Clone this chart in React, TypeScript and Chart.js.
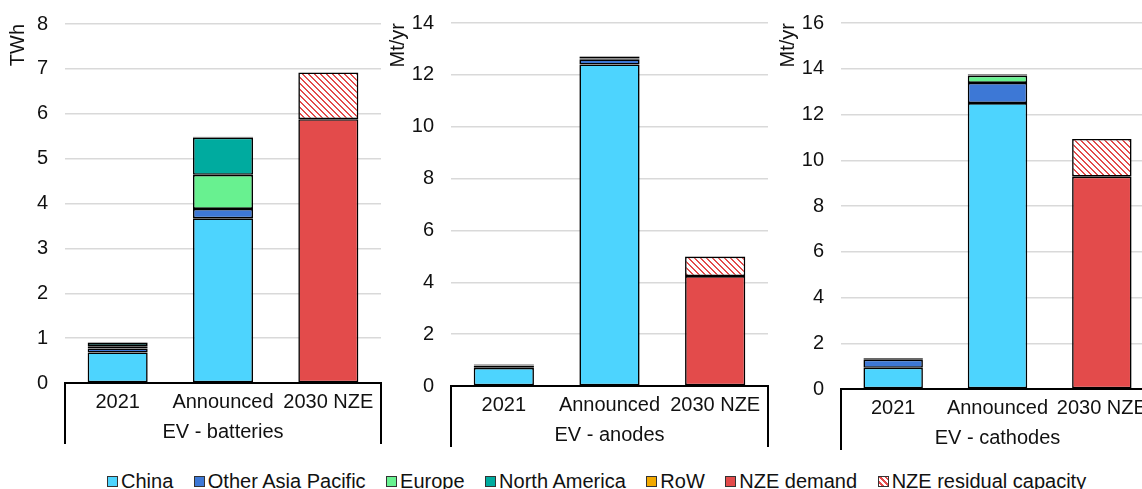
import React, { useEffect, useRef } from 'react';
import { Chart, registerables } from 'chart.js';

Chart.register(...registerables);

// ---------- data ----------
const categories = ['2021', 'Announced', '2030 NZE'];
const seriesNames = ['China', 'Other Asia Pacific', 'Europe', 'North America', 'RoW', 'NZE demand', 'NZE residual capacity'];
const seriesColors = ['#4dd4fe', '#3d78d6', '#68f190', '#00ab9f', '#f2a900', '#e34b4b', 'hatch'];

// EV - batteries (TWh)
const batChina = [0.68, 3.67, null];
const batOtherAsia = [0.09, 0.21, null];
const batEurope = [0.05, 0.76, null];
const batNorthAmerica = [0.08, 0.83, null];
const batRoW = [0.01, 0.02, null];
const batNzeDemand = [null, null, 5.88];
const batNzeResidual = [null, null, 1.04];

// EV - anodes (Mt/yr)
const anoChina = [0.7, 12.4, null];
const anoOtherAsia = [0.08, 0.2, null];
const anoEurope = [0.01, 0.03, null];
const anoNorthAmerica = [0.04, 0.07, null];
const anoRoW = [0.01, 0.02, null];
const anoNzeDemand = [null, null, 4.24];
const anoNzeResidual = [null, null, 0.75];

// EV - cathodes (Mt/yr)
const catChina = [0.93, 12.5, null];
const catOtherAsia = [0.35, 0.88, null];
const catEurope = [0.06, 0.32, null];
const catNorthAmerica = [0.01, 0.05, null];
const catRoW = [0.01, 0.02, null];
const catNzeDemand = [null, null, 9.28];
const catNzeResidual = [null, null, 1.65];

const groupLabels = ['EV - batteries', 'EV - anodes', 'EV - cathodes'];
const unitLabels = ['TWh', 'Mt/yr', 'Mt/yr'];
const axisMax = [8, 14, 16];
const axisStep = [1, 2, 2];

const panelValues = [
  [batChina, batOtherAsia, batEurope, batNorthAmerica, batRoW, batNzeDemand, batNzeResidual],
  [anoChina, anoOtherAsia, anoEurope, anoNorthAmerica, anoRoW, anoNzeDemand, anoNzeResidual],
  [catChina, catOtherAsia, catEurope, catNorthAmerica, catRoW, catNzeDemand, catNzeResidual],
];

// ---------- layout ----------
const FONT_FAMILY = '"Liberation Sans", Arial, sans-serif';
const TEXT = '#111';
const panelLayout = [
  { left: 0, width: 383, yWidth: 65, padTop: 24, padBottom: 15, titlePad: 6 },
  { left: 382, width: 388, yWidth: 69, padTop: 23, padBottom: 12, titlePad: 4 },
  { left: 772, width: 384, yWidth: 69, padTop: 23, padBottom: 9, titlePad: 4 },
];

function makeHatch(): CanvasPattern | string {
  const c = document.createElement('canvas');
  c.width = 6;
  c.height = 6;
  const g = c.getContext('2d');
  if (!g) return '#e34b4b';
  g.fillStyle = '#ffffff';
  g.fillRect(0, 0, 6, 6);
  g.fillStyle = '#e34b4b';
  for (let i = 0; i < 6; i++) g.fillRect(i, i, 2, 1);
  g.fillRect(0, 5, 1, 1);
  return g.createPattern(c, 'repeat') || '#e34b4b';
}

const boxLines = {
  id: 'boxLines',
  afterDraw(chart: any) {
    const { ctx, chartArea, scales } = chart;
    const xs = scales.x;
    ctx.save();
    ctx.strokeStyle = '#000';
    ctx.lineWidth = 2;
    ctx.beginPath();
    ctx.moveTo(chartArea.left, chartArea.bottom);
    ctx.lineTo(chartArea.left, xs.bottom - 1);
    ctx.moveTo(chartArea.right, chartArea.bottom);
    ctx.lineTo(chartArea.right, xs.bottom - 1);
    ctx.stroke();
    ctx.restore();
  },
};

function Panel({ index }: { index: number }) {
  const ref = useRef<HTMLCanvasElement>(null);
  const lay = panelLayout[index];
  useEffect(() => {
    if (!ref.current) return;
    const hatch = makeHatch();
    const font = { family: FONT_FAMILY, size: 20 };
    const datasets = seriesNames.map((name, i) => ({
      label: name,
      data: panelValues[index][i],
      backgroundColor: seriesColors[i] === 'hatch' ? hatch : seriesColors[i],
      borderColor: '#000',
      borderWidth: 1.6,
      borderSkipped: false as const,
      categoryPercentage: 1,
      barPercentage: 0.57,
    }));
    const chart = new Chart(ref.current, {
      type: 'bar',
      data: { labels: categories, datasets: datasets as any },
      options: {
        animation: false,
        responsive: false,
        maintainAspectRatio: false,
        layout: { padding: { top: lay.padTop, right: 2, bottom: lay.padBottom, left: 0 } },
        plugins: { legend: { display: false }, tooltip: { enabled: false } },
        scales: {
          x: {
            stacked: true,
            grid: { display: false, drawTicks: false },
            border: { display: true, color: '#000', width: 2 },
            ticks: { font, color: TEXT, padding: 7, maxRotation: 0, autoSkip: false },
            title: { display: true, text: groupLabels[index], font, color: TEXT, padding: { top: 0, bottom: 1 } },
            afterFit: (s: any) => {
              s.height = 62;
              s.paddingLeft = 0;
              s.paddingRight = 0;
            },
          },
          y: {
            stacked: true,
            min: 0,
            max: axisMax[index],
            ticks: { stepSize: axisStep[index], font, color: TEXT, padding: 17 },
            grid: { color: '#d9d9d9', lineWidth: 1.5, drawTicks: false },
            border: { display: false },
            title: {
              display: true,
              text: unitLabels[index],
              align: 'end',
              font,
              color: TEXT,
              padding: { top: lay.titlePad, bottom: 0 },
            },
            afterFit: (s: any) => {
              s.width = lay.yWidth;
              s.paddingTop = 0;
              s.paddingBottom = 0;
            },
          },
        },
      } as any,
      plugins: [boxLines],
    });
    return () => chart.destroy();
  }, [index]);
  return (
    <canvas
      ref={ref}
      width={lay.width}
      height={460}
      style={{ position: 'absolute', left: lay.left, top: 0, width: lay.width, height: 460 }}
    />
  );
}

function legendBg(color: string): string {
  if (color === 'hatch') return 'repeating-linear-gradient(45deg, #ffffff 0px, #ffffff 2px, #e34b4b 2px, #e34b4b 4px)';
  return color;
}

export default function App() {
  return (
    <div
      style={{
        position: 'absolute',
        left: 0,
        top: 0,
        width: 1142,
        height: 489,
        overflow: 'hidden',
        background: '#fff',
      }}
    >
      <Panel index={0} />
      <Panel index={1} />
      <Panel index={2} />
      <div
        style={{
          position: 'absolute',
          left: 107,
          top: 470,
          height: 22,
          display: 'flex',
          alignItems: 'center',
          whiteSpace: 'nowrap',
          fontFamily: FONT_FAMILY,
          fontSize: 20,
          lineHeight: '22px',
          color: TEXT,
        }}
      >
        {seriesNames.map((name, i) => (
          <div key={name} style={{ display: 'flex', alignItems: 'center', marginRight: 20.5 }}>
            <span
              style={{
                display: 'inline-block',
                width: 11,
                height: 11,
                boxSizing: 'border-box',
                border: '1px solid #333',
                background: legendBg(seriesColors[i]),
                marginRight: 3,
              }}
            />
            <span>{name}</span>
          </div>
        ))}
      </div>
    </div>
  );
}
